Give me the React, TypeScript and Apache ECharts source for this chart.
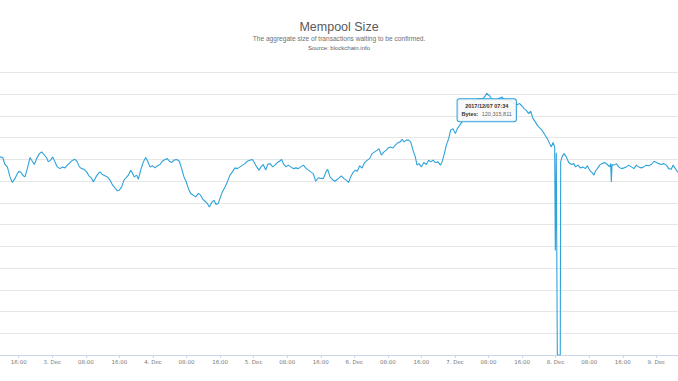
import React, { useEffect, useRef } from "react";
import * as echarts from "echarts";

// x: hours since 2017-12-02 00:00, y: mempool size in millions of bytes
const hours = [
  11.53, 12.17, 12.72, 13.28, 13.92, 14.47, 15.11, 15.66, 16.06, 16.54, 17.09, 17.49, 18.05, 18.68, 19.24, 19.72,
  20.27, 20.91, 21.46, 22.02, 22.66, 23.05, 23.61, 24.09, 24.64, 25.2, 25.84, 26.39, 27.03, 27.58, 28.22, 28.86,
  29.41, 29.97, 30.44, 31.0, 31.56, 32.19, 32.75, 33.39, 33.78, 34.42, 34.97, 35.37, 35.93, 36.56, 37.12, 37.76,
  38.39, 38.95, 39.5, 39.98, 40.54, 41.09, 41.57, 42.13, 42.68, 43.16, 43.56, 44.11, 44.51, 45.07, 45.7, 46.26,
  46.74, 47.29, 47.93, 48.48, 49.04, 49.68, 50.23, 50.87, 51.42, 51.9, 52.46, 53.01, 53.65, 54.29, 54.84, 55.4,
  55.88, 56.43, 56.99, 57.62, 58.18, 58.82, 59.37, 59.85, 60.41, 60.96, 61.44, 61.99, 62.55, 63.03, 63.58, 63.98,
  64.54, 65.17, 65.73, 66.36, 66.92, 67.56, 68.11, 68.75, 69.39, 69.94, 70.5, 71.13, 71.69, 72.17, 72.72, 73.28,
  73.76, 74.31, 74.87, 75.35, 75.9, 76.54, 77.09, 77.65, 78.13, 78.68, 79.08, 79.72, 80.27, 80.83, 81.46, 82.1,
  82.66, 83.21, 83.85, 84.4, 85.04, 85.6, 86.23, 86.79, 87.42, 87.98, 88.62, 89.25, 89.65, 90.21, 90.76, 91.4,
  91.96, 92.91, 93.54, 94.1, 94.66, 95.13, 95.69, 96.25, 96.72, 97.28, 97.84, 98.47, 99.11, 99.66, 100.22, 100.85,
  101.49, 101.89, 102.44, 103.08, 103.64, 104.03, 104.67, 105.23, 105.78, 106.42, 106.97, 107.37, 107.85, 108.4, 108.96, 109.44,
  109.99, 110.55, 110.95, 111.42, 111.98, 112.54, 113.17, 113.73, 114.21, 114.76, 115.32, 115.95, 116.51, 116.91, 117.38, 117.94,
  118.5, 118.97, 119.53, 120.09, 120.56, 121.12, 121.67, 122.15, 122.71, 123.26, 123.9, 124.54, 125.09, 125.65, 126.28, 126.84,
  127.32, 127.57, 128.27, 128.83, 129.46, 130.1, 130.66, 131.21, 131.85, 132.48, 133.04, 133.6, 134.23, 134.79, 135.42, 135.98,
  136.46, 137.01, 137.57, 138.05, 138.6, 139.16, 139.64, 140.19, 140.75, 141.38, 142.02, 142.58, 142.97, 143.37, 143.77, 143.92,
  144.15, 144.4, 145.1, 145.2, 145.52, 145.99, 146.55, 147.11, 147.74, 148.3, 148.77, 149.33, 149.89, 150.52, 151.08, 151.56,
  152.11, 152.67, 153.15, 153.46, 153.94, 154.5, 155.05, 155.69, 156.32, 156.88, 157.12, 157.28, 157.44, 157.91, 158.47, 159.03,
  159.66, 160.3, 160.85, 161.41, 162.05, 162.68, 163.24, 163.79, 164.43, 164.99, 165.62, 166.18, 166.81, 167.45, 168.01, 168.56,
  169.2, 169.83, 170.39, 170.95, 171.58, 171.98, 172.54, 173.17,
];

const mempoolMB = [
  91.1, 90.8, 87.6, 86.5, 81.9, 79.3, 81.2, 83.4, 84.5, 83.9, 82.4, 81.9, 85.7, 90.8, 89.1, 87.6,
  90.3, 92.6, 93.4, 92.2, 90.6, 88.8, 89.6, 91.1, 88.8, 86.5, 85.7, 86.5, 86.05, 87.3, 88.5, 89.6,
  90.0, 88.8, 86.5, 85.7, 85.4, 84.2, 82.4, 81.2, 79.6, 81.9, 83.4, 84.2, 83.0, 82.4, 81.9, 80.4,
  78.1, 76.9, 75.5, 75.8, 77.3, 80.4, 81.5, 82.7, 85.0, 83.4, 81.9, 82.7, 80.8, 85.0, 88.8, 90.8,
  89.1, 86.5, 87.0, 86.05, 87.0, 87.6, 89.1, 89.9, 90.3, 89.1, 88.5, 89.6, 89.9, 89.1, 85.7, 81.9,
  79.9, 76.6, 74.3, 73.5, 72.7, 74.3, 73.5, 71.7, 70.7, 69.7, 68.1, 70.1, 71.2, 69.2, 69.7, 72.0,
  75.0, 77.3, 79.6, 82.7, 84.2, 86.05, 85.7, 86.5, 87.3, 88.0, 89.1, 89.6, 89.9, 88.5, 86.5, 85.0,
  86.5, 87.6, 85.0, 87.6, 88.0, 86.5, 87.3, 88.5, 89.1, 89.9, 88.0, 86.5, 87.3, 86.5, 85.7, 86.05,
  85.7, 86.5, 87.3, 86.05, 85.0, 84.2, 83.4, 79.9, 81.5, 81.2, 81.2, 84.2, 85.4, 81.9, 80.7, 79.9,
  80.8, 82.4, 81.1, 80.4, 79.3, 81.9, 83.9, 85.0, 84.5, 87.0, 86.0, 88.5, 89.6, 90.3, 92.6, 93.4,
  94.2, 94.9, 91.9, 93.4, 94.2, 95.2, 95.7, 95.2, 96.5, 97.7, 98.0, 99.2, 98.0, 98.8, 98.8, 98.0,
  94.2, 91.1, 87.3, 88.0, 86.5, 88.5, 87.6, 89.6, 88.8, 89.6, 88.5, 88.8, 87.3, 88.8, 91.9, 96.5,
  99.5, 103.4, 104.1, 101.8, 104.1, 105.6, 107.2, 109.5, 113.3, 114.8, 115.6, 116.4, 117.6, 117.9, 117.6, 118.2,
  119.4, 120.315811, 119.1, 117.6, 117.1, 117.6, 118.2, 118.7, 117.1, 117.6, 116.7, 116.1, 115.6, 115.1, 115.6, 114.5,
  113.3, 112.5, 111.0, 112.1, 108.7, 107.2, 105.6, 104.4, 103.4, 101.4, 99.5, 97.2, 95.7, 97.7, 95.7, 48.0,
  93.0, 0, 0, 88.8, 91.1, 92.6, 91.1, 88.5, 87.6, 88.0, 86.5, 87.3, 86.05, 86.5, 85.7, 87.0,
  85.0, 83.9, 82.7, 84.5, 85.7, 87.3, 88.0, 88.5, 87.6, 86.5, 88.0, 79.6, 87.6, 87.3, 88.0, 86.5,
  85.7, 86.05, 86.5, 87.3, 86.5, 85.7, 87.3, 86.5, 86.05, 86.5, 87.3, 87.0, 87.6, 89.1, 88.5, 88.0,
  87.6, 88.0, 87.3, 85.7, 85.4, 87.3, 85.7, 83.9,
];

const tickHours = [16, 24, 32, 40, 48, 56, 64, 72, 80, 88, 96, 104, 112, 120, 128, 136, 144, 152, 160, 168];
const startDay = 2; // hours are counted from 2. Dec 00:00

const titleText = "Mempool Size";
const subtitleText = "The aggregate size of transactions waiting to be confirmed.";
const sourceText = "Source: blockchain.info";

const tipPoint = { hour: 127.57, mb: 120.315811, label: "2017/12/07 07:34", bytes: "120,315,811" };

const LINE = "#2ea2da";
const FONT = "Liberation Sans, Arial, sans-serif";

export default function App() {
  const ref = useRef<HTMLDivElement>(null);
  useEffect(() => {
    if (!ref.current) return;
    const chart = echarts.init(ref.current, undefined, { renderer: "svg" });
    const data = hours.map((h, i) => [h, mempoolMB[i]]);
    chart.setOption({
      animation: false,
      backgroundColor: "#ffffff",
      graphic: [
        {
          type: "text",
          left: "center",
          top: 20,
          style: { text: titleText, fontFamily: FONT, fontSize: 12.5, fill: "#5a5a5a" },
        },
        {
          type: "text",
          left: "center",
          top: 35,
          style: { text: subtitleText, fontFamily: FONT, fontSize: 6.6, fill: "#707070" },
        },
        {
          type: "text",
          left: "center",
          top: 44.5,
          style: { text: sourceText, fontFamily: FONT, fontSize: 6, fill: "#606060" },
        },
      ],
      grid: { left: 0, right: 0, top: 72.3, bottom: 26, containLabel: false },
      xAxis: {
        type: "value",
        min: 11.53,
        max: 173.17,
        splitLine: { show: false },
        axisLine: { show: true, lineStyle: { color: "#ccd6eb", width: 1 } },
        axisTick: { show: true, length: 3, customValues: tickHours, lineStyle: { color: "#ccd6eb" } },
        axisLabel: {
          customValues: tickHours,
          margin: 4,
          fontSize: 5.5,
          color: "#777777",
          fontFamily: "DejaVu Sans, sans-serif",
          formatter: (v: number) => {
            const h = Math.round(v);
            if (h % 24 === 0) return `${startDay + h / 24}. Dec`;
            const hh = h % 24;
            return `${hh < 10 ? "0" : ""}${hh}:00`;
          },
        },
      },
      yAxis: {
        type: "value",
        min: 0,
        max: 130,
        interval: 10,
        axisLabel: { show: false },
        axisLine: { show: false },
        axisTick: { show: false },
        splitLine: { show: true, lineStyle: { color: "#e6e6e6", width: 1 } },
      },
      series: [
        {
          type: "line",
          data,
          showSymbol: false,
          symbol: "none",
          lineStyle: { color: LINE, width: 1.1 },
          markPoint: {
            symbol: "circle",
            symbolSize: 0,
            data: [
              {
                coord: [tipPoint.hour, tipPoint.mb],
                label: {
                  show: true,
                  position: "bottom",
                  distance: 6,
                  backgroundColor: "rgba(250,250,250,0.9)",
                  borderColor: LINE,
                  borderWidth: 1,
                  borderRadius: 2,
                  padding: [3, 4, 3, 4],
                  lineHeight: 8,
                  formatter: `{t|${tipPoint.label}}\n{b|Bytes:} {v|${tipPoint.bytes}}`,
                  rich: {
                    t: { fontSize: 5.5, fontWeight: "bold", color: "#333333", fontFamily: FONT, lineHeight: 8 },
                    b: { fontSize: 5.5, fontWeight: "bold", color: "#333333", fontFamily: FONT, lineHeight: 8 },
                    v: { fontSize: 5.5, color: "#666666", fontFamily: FONT, lineHeight: 8 },
                  },
                },
              },
            ],
          },
        },
      ],
    });
    return () => chart.dispose();
  }, []);
  return <div ref={ref} style={{ position: "fixed", left: 0, top: 0, width: 678, height: 381 }} />;
}
